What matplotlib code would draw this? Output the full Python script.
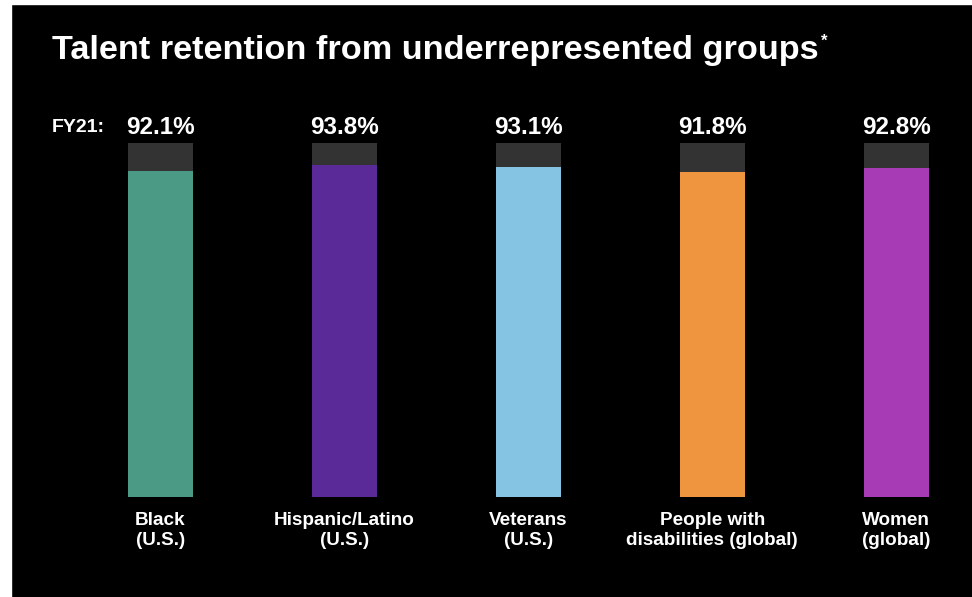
import matplotlib.pyplot as plt
from matplotlib.patches import Rectangle

categories = ["Black\n(U.S.)", "Hispanic/Latino\n(U.S.)", "Veterans\n(U.S.)",
              "People with\ndisabilities (global)", "Women\n(global)"]
retention = [92.1, 93.8, 93.1, 91.8, 92.8]
bar_colors = ["#4a9a86", "#5a2a98", "#86c4e3", "#f0953f", "#a63bb5"]

plt.rcParams["font.family"] = ["Liberation Sans", "DejaVu Sans"]
plt.rcParams["font.weight"] = "bold"

fig = plt.figure(figsize=(9.72, 5.97), dpi=100, facecolor="black")

# white margin strips at left and top
fig.patches.append(Rectangle((0, 0), 11 / 972, 1, transform=fig.transFigure, color="white", zorder=0))
fig.patches.append(Rectangle((0, 1 - 4 / 597), 1, 4 / 597, transform=fig.transFigure, color="white", zorder=0))

ax = fig.add_axes([0, (597 - 497) / 597, 1, 354 / 597])
ax.set_facecolor("none")
spacing = 183.9
ax.set_xlim(-160.5 / spacing, (972 - 160.5) / spacing)
ax.set_ylim(0, 100)
ax.axis("off")

x = range(len(categories))
ax.bar(x, [100] * len(categories), width=0.353, color="#333333")
ax.bar(x, retention, width=0.353, color=bar_colors)

for i, (cat, val) in enumerate(zip(categories, retention)):
    ax.annotate(f"{val}%", (i, 100), xytext=(0, 11), textcoords="offset points",
                ha="center", va="center", color="white", fontsize=17.5, fontweight="bold")
    ax.annotate(cat, (i, 0), xytext=(0, -24), textcoords="offset points",
                ha="center", va="center", color="white", fontsize=13.6, fontweight="bold",
                linespacing=1.25)

fig.text(52 / 972, 1 - 127 / 597, "FY21:", color="white", fontsize=14,
         fontweight="bold", ha="left", va="center")
fig.text(52 / 972, 1 - 51 / 597, "Talent retention from underrepresented groups",
         color="white", fontsize=24.7, fontweight="bold", ha="left", va="center")
fig.text(821 / 972, 1 - 41 / 597, "*", color="white", fontsize=12,
         fontweight="bold", ha="left", va="center")

fig.savefig("out.png", dpi=100, facecolor="black")
